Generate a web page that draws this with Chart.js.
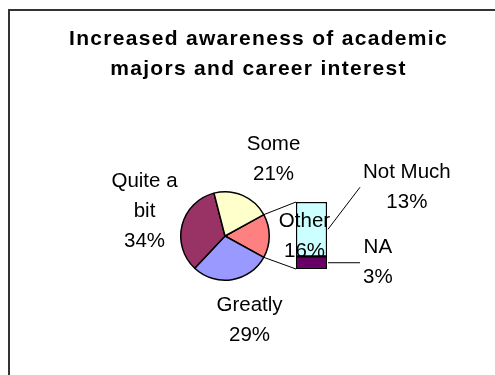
<!DOCTYPE html>
<html>
<head>
<meta charset="utf-8">
<script src="https://cdn.jsdelivr.net/npm/chart.js@4"></script>
<style>
  html, body { margin: 0; padding: 0; background: #ffffff; }
  #wrap { position: relative; width: 495px; height: 375px; }
  #wrap canvas { position: absolute; left: 0; top: 0; }
</style>
</head>
<body>
<div id="wrap">
  <canvas id="pieCanvas" width="495" height="375"></canvas>
  <canvas id="barCanvas" width="495" height="375"></canvas>
</div>
<script>
// ---- data ----
const titleLines = ['Increased awareness of academic', 'majors and career interest'];

// slices shown in the pie itself
const mainLabels = ['Greatly', 'Quite a bit', 'Some'];
const mainValues = [29, 34, 21];
const mainColors = ['#9999FF', '#993366', '#FFFFCC'];

// slices broken out into the stacked bar (bottom to top)
const splitLabels = ['NA', 'Not Much'];
const splitValues = [3, 13];
const splitColors = ['#660066', '#CCFFFF'];

const otherLabel = 'Other';
const otherColor = '#FF8080';

// how the label text wraps
const labelLines = { 'Quite a bit': ['Quite a', 'bit'] };

// ---- derived ----
const otherValue = splitValues.reduce((a, b) => a + b, 0);
const pieLabels = [otherLabel, ...mainLabels];
const pieValues = [otherValue, ...mainValues];
const pieColors = [otherColor, ...mainColors];
const grandTotal = pieValues.reduce((a, b) => a + b, 0);
const pct = v => Math.round(v / grandTotal * 100) + '%';
// centre the "Other" slice on the right-hand side, facing the bar
const startRotation = 90 - (otherValue / grandTotal * 360) / 2;

const FONT = "'Liberation Sans', Arial, sans-serif";
const LABEL_SIZE = 20.5;
const LINE_H = 30;

// label block centres relative to the pie centre (px)
const pieLabelOffset = {
  'Other': [79.5, -1],
  'Greatly': [24.5, 82.5],
  'Quite a bit': [-80.5, -26],
  'Some': [48.5, -78.5]
};

function drawBlock(ctx, lines, cx, cy) {
  ctx.save();
  ctx.font = LABEL_SIZE + 'px ' + FONT;
  ctx.fillStyle = '#000';
  ctx.textAlign = 'center';
  ctx.textBaseline = 'alphabetic';
  const capHalf = LABEL_SIZE * 0.716 / 2;
  const first = cy - (lines.length - 1) * LINE_H / 2;
  lines.forEach((t, i) => ctx.fillText(t, cx, first + i * LINE_H + capHalf));
  ctx.restore();
}

function blockWidth(ctx, lines) {
  ctx.save();
  ctx.font = LABEL_SIZE + 'px ' + FONT;
  const w = Math.max(...lines.map(t => ctx.measureText(t).width));
  ctx.restore();
  return w;
}

const pieChart = new Chart(document.getElementById('pieCanvas'), {
  type: 'pie',
  data: {
    labels: pieLabels,
    datasets: [{
      data: pieValues,
      backgroundColor: pieColors,
      borderColor: '#000000',
      borderWidth: 1.5
    }]
  },
  options: {
    responsive: false,
    animation: false,
    events: [],
    rotation: startRotation,
    layout: { padding: { left: 180, right: 225, top: 191, bottom: 94 } },
    plugins: { legend: { display: false }, tooltip: { enabled: false }, title: { display: false } }
  }
});

const overlay = {
  id: 'overlay',
  afterDraw(chart) {
    const ctx = chart.ctx;

    // frame
    ctx.save();
    ctx.strokeStyle = '#333333';
    ctx.lineWidth = 2;
    ctx.beginPath();
    ctx.moveTo(9, 375);
    ctx.lineTo(9, 10);
    ctx.lineTo(495, 10);
    ctx.stroke();
    ctx.restore();

    // title
    ctx.save();
    ctx.font = 'bold 21px ' + FONT;
    ctx.fillStyle = '#000';
    ctx.textAlign = 'center';
    ctx.textBaseline = 'alphabetic';
    ctx.letterSpacing = '1.3px';
    titleLines.forEach((t, i) => ctx.fillText(t, 258.5, 45 + i * 30));
    ctx.restore();

    const arcs = pieChart.getDatasetMeta(0).data;
    const otherArc = arcs[0];
    const cx = otherArc.x, cy = otherArc.y, R = otherArc.outerRadius;

    const segs = splitLabels.map((_, i) => chart.getDatasetMeta(i).data[0]);
    const bottomSeg = segs[0];
    const topSeg = segs[segs.length - 1];
    const left = topSeg.x - topSeg.width / 2;
    const right = topSeg.x + topSeg.width / 2;

    // connectors from the "Other" slice edges to the bar
    ctx.save();
    ctx.strokeStyle = '#000';
    ctx.lineWidth = 1;
    ctx.beginPath();
    ctx.moveTo(cx + R * Math.cos(otherArc.startAngle), cy + R * Math.sin(otherArc.startAngle));
    ctx.lineTo(left, topSeg.y);
    ctx.moveTo(cx + R * Math.cos(otherArc.endAngle), cy + R * Math.sin(otherArc.endAngle));
    ctx.lineTo(left, bottomSeg.base);
    ctx.stroke();
    ctx.restore();

    // pie labels
    pieLabels.forEach((lab, i) => {
      const lines = (labelLines[lab] || [lab]).concat([pct(pieValues[i])]);
      const off = pieLabelOffset[lab];
      drawBlock(ctx, lines, cx + off[0], cy + off[1]);
    });

    // bar labels with leader lines
    const leader = { 'Not Much': [33, -42], 'NA': [33, 0] };
    splitLabels.forEach((lab, i) => {
      const seg = segs[i];
      const sy = (seg.y + seg.base) / 2;
      const d = leader[lab];
      const ex = right + d[0], ey = sy + d[1];
      ctx.save();
      ctx.strokeStyle = '#000';
      ctx.lineWidth = 1;
      ctx.beginPath();
      ctx.moveTo(right + 1, sy);
      ctx.lineTo(ex, ey);
      ctx.stroke();
      ctx.restore();
      const lines = (labelLines[lab] || [lab]).concat([pct(splitValues[i])]);
      const w = blockWidth(ctx, lines);
      drawBlock(ctx, lines, ex + 3 + w / 2, ey - 2);
    });
  }
};

const barChart = new Chart(document.getElementById('barCanvas'), {
  type: 'bar',
  data: {
    labels: [otherLabel],
    datasets: splitLabels.map((lab, i) => ({
      label: lab,
      data: [splitValues[i]],
      backgroundColor: splitColors[i],
      borderColor: '#000000',
      borderWidth: 1.5,
      borderSkipped: false,
      barPercentage: 1,
      categoryPercentage: 1
    }))
  },
  options: {
    responsive: false,
    animation: false,
    events: [],
    layout: { padding: { left: 296, right: 168, top: 202, bottom: 106 } },
    scales: {
      x: { display: false, stacked: true },
      y: { display: false, stacked: true, min: 0, max: otherValue }
    },
    plugins: { legend: { display: false }, tooltip: { enabled: false }, title: { display: false } }
  },
  plugins: [overlay]
});
</script>
</body>
</html>
